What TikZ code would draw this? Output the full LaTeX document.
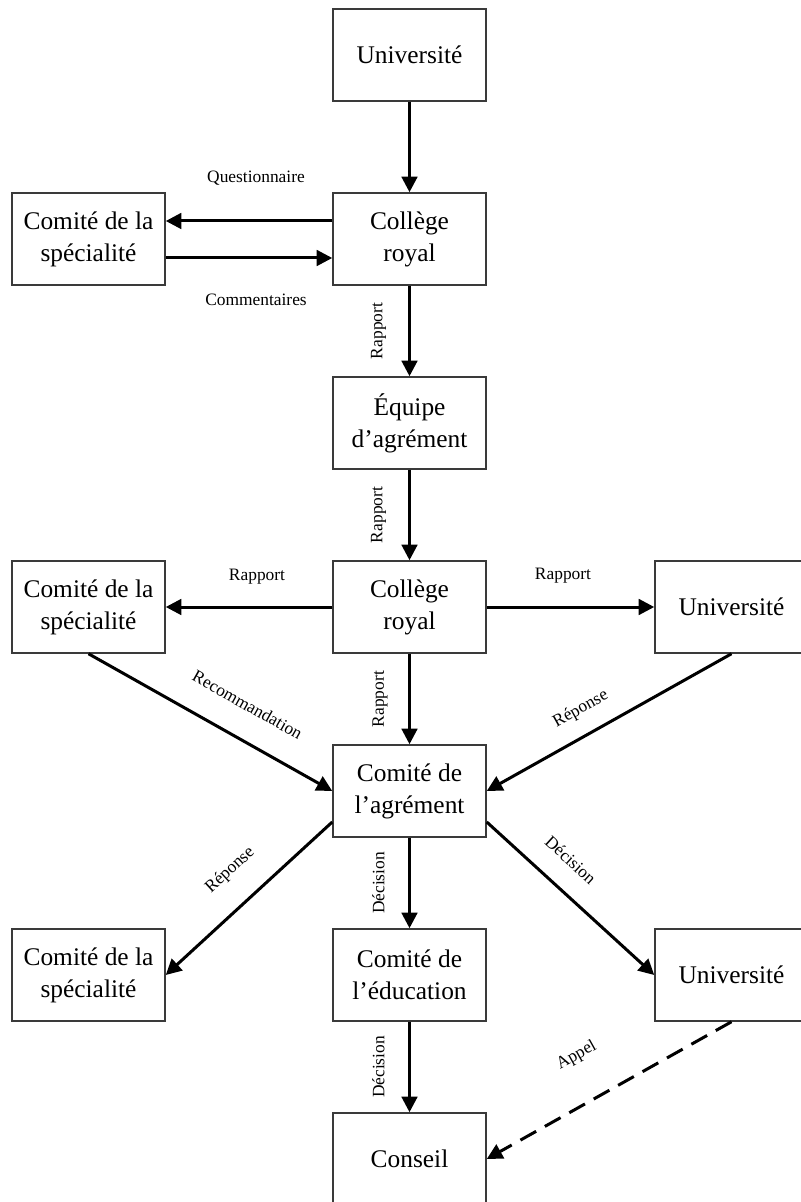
\documentclass[tikz,border=0pt]{standalone}
\usepackage{fontspec}
\setmainfont{Liberation Serif}
\usepackage{tikz}
\usetikzlibrary{arrows.meta,positioning}
\definecolor{ink}{HTML}{000000}
\definecolor{boxline}{HTML}{3A3A3A}
\tikzset{
  box/.style={draw=boxline,line width=0.75pt,align=center,
              minimum width=76.5pt,minimum height=46pt,inner sep=0pt,
              font=\fontsize{12.7}{16}\selectfont},
  arr/.style={-{Triangle[length=7.8pt,width=7.8pt]},line width=1.5pt,draw=ink},
  dasharr/.style={arr,dash pattern=on 9pt off 5pt},
  lbl/.style={font=\fontsize{8.7}{10}\selectfont,inner sep=2pt},
  vlbl/.style={lbl,rotate=90}
}

\begin{document}
\begin{tikzpicture}[x=0.5pt,y=-0.5pt]
  \useasboundingbox (0,0) rectangle (801,1202);
  \clip (0,0) rectangle (801,1202);
  % boxes
  \node[box] (univtop) at (409.5,55) {Université};
  \node[box] (spec1) at (88.5,239) {Comité de la\\spécialité};
  \node[box] (coll1) at (409.5,239) {Collège\\royal};
  \node[box] (equipe) at (409.5,423) {Équipe\\d’agrément};
  \node[box] (spec2) at (88.5,607) {Comité de la\\spécialité};
  \node[box] (coll2) at (409.5,607) {Collège\\royal};
  \node[box] (univmid) at (731.5,607) {Université};
  \node[box] (agrement) at (409.5,791) {Comité de\\l’agrément};
  \node[box] (spec3) at (88.5,975) {Comité de la\\spécialité};
  \node[box] (educ) at (409.5,975) {Comité de\\l’éducation};
  \node[box] (univbot) at (731.5,975) {Université};
  \node[box] (conseil) at (409.5,1159) {Conseil};
  % connectors
  \draw[arr] (univtop) -- (coll1);
  \draw[arr] ([yshift=9pt]coll1.west) -- node[lbl,yshift=21.5pt,xshift=3.5pt]{Questionnaire} ([yshift=9pt]spec1.east);
  \draw[arr] ([yshift=-9.5pt]spec1.east) -- node[lbl,yshift=-21pt,xshift=3.5pt]{Commentaires} ([yshift=-9.5pt]coll1.west);
  \draw[arr] (coll1) -- node[xshift=-15.5pt,vlbl]{Rapport} (equipe);
  \draw[arr] (equipe) -- node[xshift=-15.5pt,vlbl]{Rapport} (coll2);
  \draw[arr] (coll2) -- node[lbl,yshift=15pt,xshift=4pt]{Rapport} (spec2);
  \draw[arr] (coll2) -- node[lbl,yshift=15.5pt,xshift=-3.75pt]{Rapport} (univmid);
  \draw[arr] (coll2) -- node[xshift=-14.75pt,vlbl]{Rapport} (agrement);
  \draw[arr] (spec2.south) -- node[lbl,sloped,pos=0.585,above=11pt]{Recommandation} (agrement.west);
  \draw[arr] (univmid.south) -- node[lbl,sloped,pos=0.565,above=6pt]{Réponse} (agrement.east);
  \draw[arr] ([yshift=-15.5pt]agrement.west) -- node[lbl,sloped,pos=0.477,above=10pt]{Réponse} (spec3.east);
  \draw[arr] (agrement) -- node[xshift=-15.5pt,vlbl]{Décision} (educ);
  \draw[arr] ([yshift=-15.5pt]agrement.east) -- node[lbl,sloped,pos=0.386,above=8.5pt]{Décision} (univbot.west);
  \draw[arr] (educ) -- node[xshift=-15.5pt,vlbl]{Décision} (conseil);
  \draw[dasharr] (univbot.south) -- node[lbl,sloped,pos=0.54,above=16.5pt]{Appel} (conseil.east);
\end{tikzpicture}
\end{document}
